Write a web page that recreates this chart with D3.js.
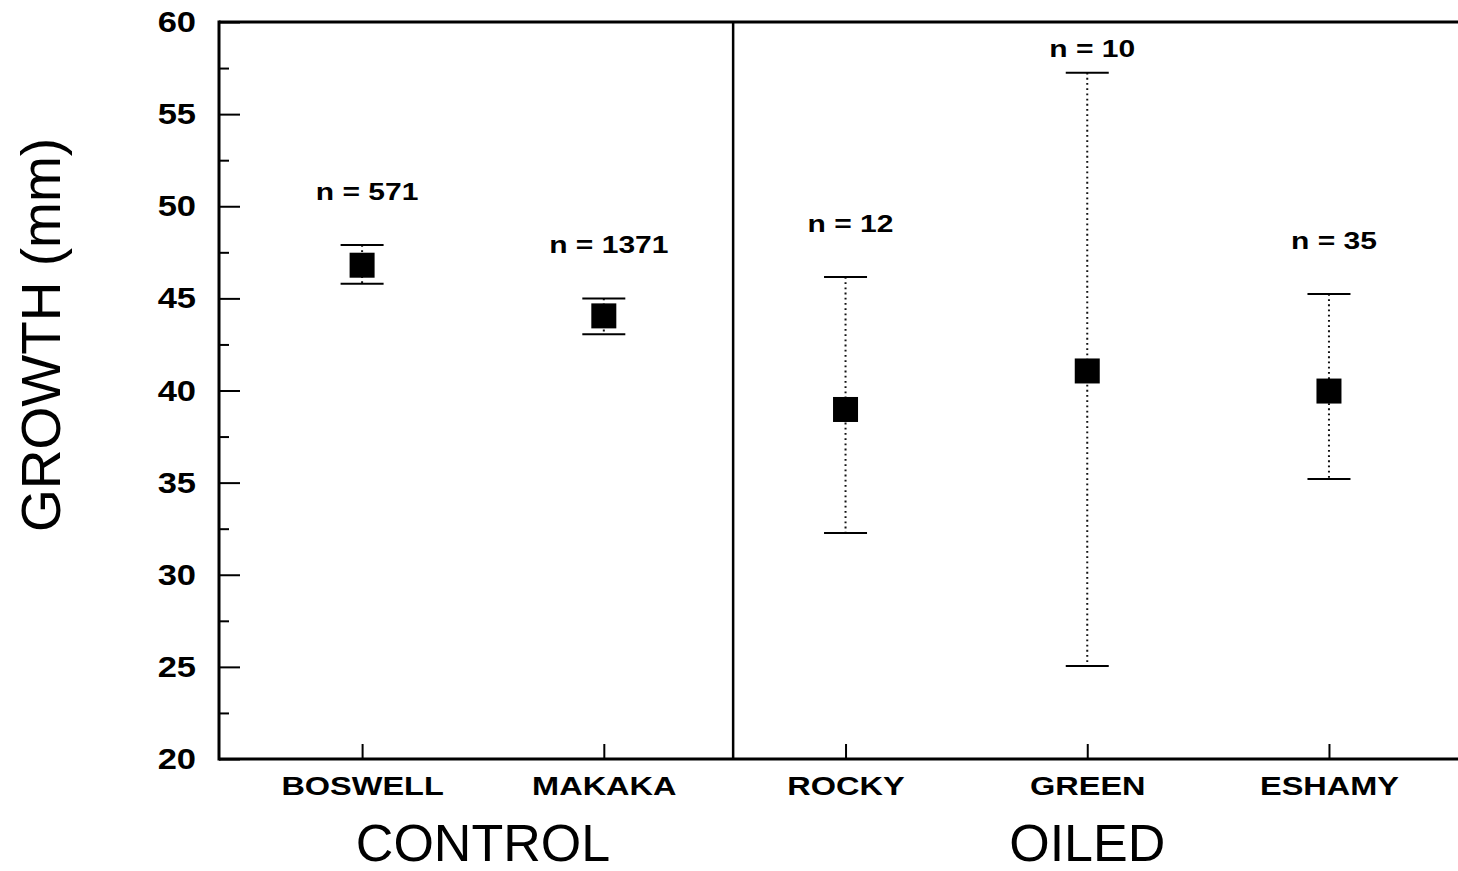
<!DOCTYPE html>
<html>
<head>
<meta charset="utf-8">
<script src="https://cdn.jsdelivr.net/npm/d3@7"></script>
<style>
  body { margin: 0; background: #fff; }
  svg { display: block; font-family: "Liberation Sans", Arial, sans-serif; }
</style>
</head>
<body>
<svg id="chart"></svg>
<script>
// site data
const sites = ["BOSWELL", "MAKAKA", "ROCKY", "GREEN", "ESHAMY"];
const siteGroup = [0, 0, 1, 1, 1];
const meanGrowth = [46.8, 44.05, 38.97, 41.06, 39.97];
const upperGrowth = [47.9, 45.0, 46.16, 57.25, 45.24];
const lowerGrowth = [45.8, 43.05, 32.27, 25.05, 35.2];
const sampleSize = [571, 1371, 12, 10, 35];
const groups = ["CONTROL", "OILED"];
const groupBoundary = 2.535;   // between MAKAKA and ROCKY, in site units
const yTicks = [20, 25, 30, 35, 40, 45, 50, 55, 60];
const yMinorTicks = [22.5, 27.5, 32.5, 37.5, 42.5, 47.5, 52.5, 57.5];

const W = 1458, H = 871;
const svg = d3.select("#chart").attr("width", W).attr("height", H);

const plotLeft = 219, plotTop = 22, plotBottom = 759, plotRight = 1474;

const x = d3.scaleLinear().domain([0.408, 5.6]).range([plotLeft, plotRight]);
const y = d3.scaleLinear().domain([20, 60]).range([plotBottom, plotTop]);

const data = sites.map((s, i) => ({
  site: s, pos: i + 1, mean: meanGrowth[i], hi: upperGrowth[i], lo: lowerGrowth[i],
  n: sampleSize[i], group: siteGroup[i]
}));

// the scanned lettering is a bit wider than Arial, so stretch it sideways
const yStretch = 1.15, siteStretch = 1.3, nStretch = 1.25;

// y axis, ticks pointing inward
const yAxis = svg.append("g")
  .attr("transform", "translate(" + plotLeft + ",0)")
  .call(d3.axisLeft(y).tickValues(yTicks).tickSize(-21).tickPadding(23).tickFormat(d3.format("d")));
yAxis.select(".domain").remove();
yAxis.selectAll("line").attr("stroke", "#000").attr("stroke-width", 2);
yAxis.selectAll("text")
  .attr("fill", "#000")
  .attr("x", -23 / yStretch)
  .attr("transform", "scale(" + yStretch + ",1)")
  .style("font-size", "30px")
  .style("font-weight", "bold");

const yMinor = svg.append("g")
  .attr("transform", "translate(" + plotLeft + ",0)")
  .call(d3.axisLeft(y).tickValues(yMinorTicks).tickSize(-10).tickFormat(""));
yMinor.select(".domain").remove();
yMinor.selectAll("line").attr("stroke", "#000").attr("stroke-width", 2);

// x axis with site names
const xAxis = svg.append("g")
  .attr("transform", "translate(0," + plotBottom + ")")
  .call(d3.axisBottom(x).tickValues(data.map(d => d.pos)).tickSize(-15)
    .tickFormat(i => sites[i - 1]));
xAxis.select(".domain").remove();
xAxis.selectAll("line").attr("stroke", "#000").attr("stroke-width", 2);
xAxis.selectAll("text")
  .attr("fill", "#000")
  .attr("dy", null)
  .attr("y", 36)
  .attr("transform", "scale(" + siteStretch + ",1)")
  .style("font-size", "25px")
  .style("font-weight", "bold");

// frame
const frame = svg.append("g").attr("stroke", "#000").attr("stroke-width", 3);
frame.append("line").attr("x1", plotLeft).attr("x2", plotLeft).attr("y1", plotTop - 1.5).attr("y2", plotBottom + 1.5);
frame.append("line").attr("x1", plotLeft).attr("x2", plotRight).attr("y1", plotTop).attr("y2", plotTop);
frame.append("line").attr("x1", plotLeft).attr("x2", plotRight).attr("y1", plotBottom).attr("y2", plotBottom);
frame.append("line")
  .attr("x1", x(groupBoundary)).attr("x2", x(groupBoundary))
  .attr("y1", plotTop).attr("y2", plotBottom)
  .attr("stroke-width", 2.5);

// error bars
const pts = svg.append("g").selectAll("g").data(data).join("g");

pts.append("line")
  .attr("x1", d => x(d.pos)).attr("x2", d => x(d.pos))
  .attr("y1", d => y(d.hi)).attr("y2", d => y(d.lo))
  .attr("stroke", "#111").attr("stroke-width", 2)
  .attr("stroke-dasharray", "1.8,3.4");

const capW = 43;
pts.append("line")
  .attr("x1", d => x(d.pos) - capW / 2).attr("x2", d => x(d.pos) + capW / 2)
  .attr("y1", d => y(d.hi)).attr("y2", d => y(d.hi))
  .attr("stroke", "#000").attr("stroke-width", 2);
pts.append("line")
  .attr("x1", d => x(d.pos) - capW / 2).attr("x2", d => x(d.pos) + capW / 2)
  .attr("y1", d => y(d.lo)).attr("y2", d => y(d.lo))
  .attr("stroke", "#000").attr("stroke-width", 2);

const sq = 25;
pts.append("rect")
  .attr("x", d => x(d.pos) - sq / 2).attr("y", d => y(d.mean) - sq / 2)
  .attr("width", sq).attr("height", sq)
  .attr("fill", "#000");

// sample size labels above the upper cap
pts.append("g")
  .attr("transform", d => "translate(" + (x(d.pos) + 5) + "," + Math.max(y(d.hi) - 45, y(58.1)) + ")")
  .append("text")
  .attr("transform", "scale(" + nStretch + ",1)")
  .attr("text-anchor", "middle")
  .style("font-size", "24px")
  .style("font-weight", "bold")
  .text(d => "n = " + d.n);

// group labels
svg.append("g").selectAll("text").data(groups).join("text")
  .attr("x", (g, gi) => x(d3.mean(data.filter(d => d.group === gi), d => d.pos)))
  .attr("y", 861)
  .attr("text-anchor", "middle")
  .style("font-size", "52px")
  .text(g => g);

// y title
svg.append("text")
  .attr("transform", "translate(60,335) rotate(-90)")
  .attr("text-anchor", "middle")
  .style("font-size", "55px")
  .text("GROWTH (mm)");
</script>
</body>
</html>
